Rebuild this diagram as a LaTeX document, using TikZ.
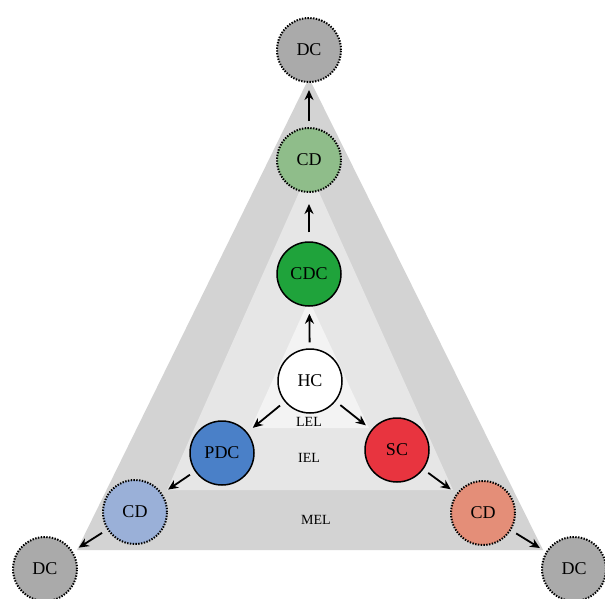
\documentclass[tikz,border=0pt]{standalone}
\usepackage{fontspec}
\setmainfont{Liberation Serif}
\usetikzlibrary{arrows.meta}
\definecolor{melgray}{HTML}{D3D3D3}
\definecolor{ielgray}{HTML}{E6E6E6}
\definecolor{lelgray}{HTML}{F3F3F3}
\definecolor{dcgray}{HTML}{AAAAAA}
\definecolor{cdgreen}{HTML}{8FBD8A}
\definecolor{cdcgreen}{HTML}{1FA33B}
\definecolor{pdcblue}{HTML}{4A80C8}
\definecolor{scred}{HTML}{E8343F}
\definecolor{cdblue}{HTML}{9AB0D8}
\definecolor{cdsalmon}{HTML}{E48E78}
\begin{document}
\begin{tikzpicture}[x=1pt,y=-1pt,
  base/.style={circle,minimum size=64pt,inner sep=0pt,font=\fontsize{18}{20}\selectfont},
  solidnode/.style={base,draw=black,line width=1.5pt},
  dotnode/.style={base,draw=black,line width=2pt,dash pattern=on 1.4pt off 1.4pt},
  arr/.style={-{Stealth[length=10pt,width=9pt]},line width=1.8pt,shorten <=6pt,shorten >=7pt},
  lbl/.style={font=\fontsize{14}{16}\selectfont}]
\useasboundingbox (0,0) rectangle (605,598);
% layers
\fill[melgray] (309,78) -- (77,550) -- (543,550) -- cycle;
\fill[ielgray] (309,170) -- (167,490) -- (453,490) -- cycle;
\fill[lelgray] (309,300) -- (251,428) -- (369,428) -- cycle;
% labels
\node[lbl] (lel) at (309,422) {LEL};
\node[lbl] (iel) at (309,458) {IEL};
\node[lbl] (mel) at (316,520) {MEL};
% nodes
\node[dotnode,fill=dcgray] (dct) at (309,50) {DC};
\node[dotnode,fill=cdgreen] (cdt) at (309,160) {CD};
\node[solidnode,fill=cdcgreen] (cdc) at (309,274) {CDC};
\node[solidnode,fill=white] (hc) at (310,381) {HC};
\node[solidnode,fill=pdcblue] (pdc) at (222,453) {PDC};
\node[solidnode,fill=scred] (sc) at (397,450) {SC};
\node[dotnode,fill=cdblue] (cdl) at (135,512) {CD};
\node[dotnode,fill=cdsalmon] (cdr) at (483,513) {CD};
\node[dotnode,fill=dcgray] (dcl) at (45,569) {DC};
\node[dotnode,fill=dcgray] (dcr) at (574,569) {DC};
% arrows
\draw[arr] (cdt) -- (dct);
\draw[arr,shorten <=9pt,shorten >=11pt] (cdc) -- (cdt);
\draw[arr] (hc) -- (cdc);
\draw[arr] (hc) -- (pdc);
\draw[arr] (hc) -- (sc);
\draw[arr] (pdc) -- (cdl);
\draw[arr] (cdl) -- (dcl);
\draw[arr] (sc) -- (cdr);
\draw[arr] (cdr) -- (dcr);
\end{tikzpicture}
\end{document}
